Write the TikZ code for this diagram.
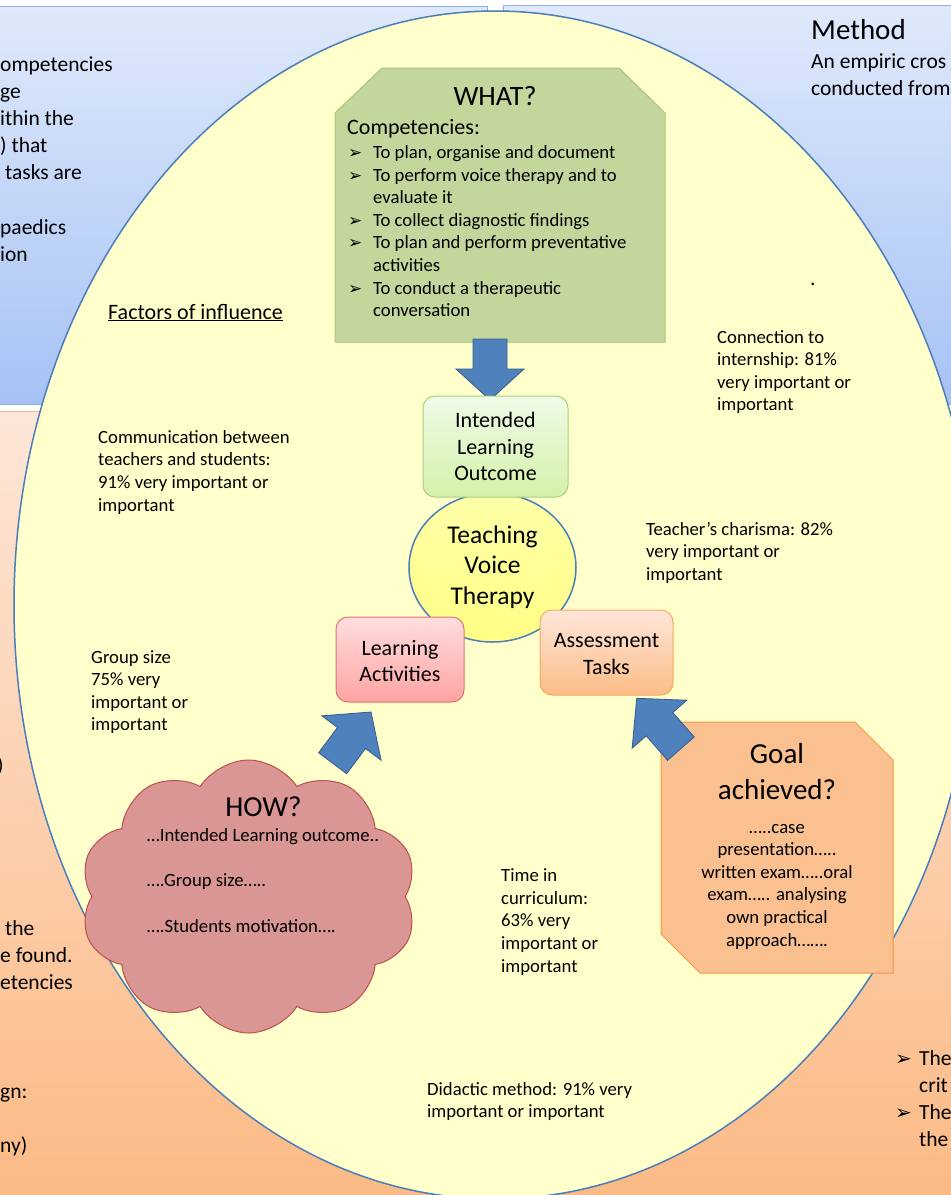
\documentclass[tikz,border=0pt]{standalone}
\usepackage{fontspec}
\setmainfont{Carlito}
\newfontfamily\dejavu{DejaVu Sans}
\usetikzlibrary{shapes.symbols,shapes.geometric}
\definecolor{bluetop}{HTML}{DFE9FB}
\definecolor{bluebot}{HTML}{A6C2F5}
\definecolor{blueedge}{HTML}{8FB0E6}
\definecolor{orgtop}{HTML}{FDE6D8}
\definecolor{orgbot}{HTML}{FBBA85}
\definecolor{orgedge}{HTML}{F9B583}
\definecolor{ellfill}{HTML}{FFFFCC}
\definecolor{elledge}{HTML}{4A7EBB}
\definecolor{whatfill}{HTML}{C3D69B}
\definecolor{whatedge}{HTML}{A8C878}
\definecolor{arrfill}{HTML}{4F81BD}
\definecolor{arredge}{HTML}{385D8A}
\definecolor{ilotop}{HTML}{EFFBE8}
\definecolor{ilobot}{HTML}{D3F2A9}
\definecolor{iloedge}{HTML}{A9D07C}
\definecolor{tvttop}{HTML}{FFFFA8}
\definecolor{tvtbot}{HTML}{FFFF85}
\definecolor{latop}{HTML}{FFDEDE}
\definecolor{labot}{HTML}{FFA3A3}
\definecolor{laedge}{HTML}{E07373}
\definecolor{attop}{HTML}{FEE6D9}
\definecolor{atbot}{HTML}{FCBD87}
\definecolor{atedge}{HTML}{F9A862}
\definecolor{cloudfill}{HTML}{D99694}
\definecolor{cloudedge}{HTML}{C0504D}
\definecolor{goalfill}{HTML}{FAC090}
\definecolor{goaledge}{HTML}{F79646}

\newcommand\mylines[2][l]{\begin{tabular}[t]{@{}#1@{}}#2\end{tabular}}
\newcommand\fS{\fontsize{18.7}{22.6}\selectfont}
\newcommand\fM{\fontsize{21.5}{27.2}\selectfont}
\newcommand\fMi{\fontsize{22}{26.7}\selectfont}
\newcommand\fT{\fontsize{25.5}{30.4}\selectfont}
\newcommand\fL{\fontsize{29}{35.7}\selectfont}
\newcommand\bulA{\makebox[25pt][l]{\dejavu\fontsize{17}{17}\selectfont ➢}}
\newcommand\bulB{\makebox[24pt][l]{\dejavu\fontsize{20}{20}\selectfont ➢}}
\newcommand\blockarrow[6]{%
  \filldraw[arrowst, shift={#1}, rotate=#2] (0,0) -- (-#4,#5) -- (-#4,#6) -- (-#3,#6) -- (-#3,-#6) -- (-#4,-#6) -- (-#4,-#5) -- cycle;}

\tikzset{
  txt/.style={inner sep=0pt, text=black},
  rbox/.style={rectangle, rounded corners=12pt, line width=1pt, inner sep=0pt},
  arrowst/.style={fill=arrfill, draw=arredge, line width=0.8pt, line join=miter},
}

\begin{document}
\begin{tikzpicture}[x=1pt, y=-1pt]
\useasboundingbox (0,0) rectangle (951,1195);
\clip (0,0) rectangle (951,1195);
\fill[white] (0,0) rectangle (951,1195);

% panels
\shade[top color=bluetop, bottom color=bluebot] (-5,6) rectangle (487,404);
\draw[blueedge, line width=1pt] (-5,6) rectangle (487,404);
\shade[top color=bluetop, bottom color=bluebot] (503,5) rectangle (960,404);
\draw[blueedge, line width=1pt] (503,5) rectangle (960,404);
\shade[top color=orgtop, bottom color=orgbot] (-5,411) rectangle (487,1200);
\draw[orgedge, line width=1pt] (-5,411) rectangle (487,1200);
\shade[top color=orgtop, bottom color=orgbot] (503,411) rectangle (960,1200);
\draw[orgedge, line width=1pt] (503,411) rectangle (960,1200);

% panel texts (cut at the picture edges)
\node[txt, anchor=base west, font=\fM] (lbtext) at (0,71)
  {\mylines{ompetencies\\ge\\ithin the\\) that\\\hspace*{5pt}tasks are\\ \\paedics\\ion}};
\node[txt, anchor=base west, font=\fL] (method) at (811,39) {Method};
\node[txt, anchor=base west, font=\fM] (methodtext) at (811,68)
  {\mylines{An empiric cros\\conducted from}};
\node[txt, anchor=base west, font=\fM] (lparen) at (-3,772) {)};
\node[txt, anchor=base west, font=\fM] (lotext) at (0,935)
  {\mylines{\hspace*{5pt}the\\e found.\\etencies\\ \\ \\ \\gn:\\ \\ny)}};
\node[txt, anchor=base west, font=\fM] (rotext) at (895,1065)
  {\begin{tabular}[t]{@{}l@{}l@{}}\bulB & The\\ & crit\\ \bulB & The\\ & the\end{tabular}};

% big ellipse
\filldraw[fill=ellfill, draw=elledge, line width=1.5pt] (495,605) ellipse [x radius=481pt, y radius=594pt];

% WHAT box
\filldraw[fill=whatfill, draw=whatedge, line width=1pt]
  (335,113) -- (382,68) -- (619,68) -- (665,113) -- (665,342) -- (335,342) -- cycle;
\node[txt, anchor=base, font=\fontsize{28}{34}\selectfont] (what) at (495,105) {WHAT?};
\node[txt, anchor=base west, font=\fMi] (comp) at (347,134) {Competencies:};
\node[txt, anchor=base west, font=\fS] (complist) at (348,158.5)
  {\begin{tabular}[t]{@{}l@{}l@{}}
   \bulA & To plan, organise and document\\
   \bulA & To perform voice therapy and to\\
         & evaluate it\\
   \bulA & To collect diagnostic findings\\
   \bulA & To plan and perform preventative\\
         & activities\\
   \bulA & To conduct a therapeutic\\
         & conversation
   \end{tabular}};

\node[txt, anchor=base west, font=\fM] (dot) at (810,285) {.};

% down arrow
\blockarrow{(490,400)}{-90}{61}{31}{34}{17}

% centre
\node[ellipse, draw=elledge, line width=1.5pt, top color=tvttop, bottom color=tvtbot,
      minimum width=167pt, minimum height=149pt, inner sep=0pt] (tvt) at (492.5,567.5) {};
\node[txt, anchor=base, font=\fT] (tvttext) at (492.5,543.3) {\mylines[c]{Teaching\\Voice\\Therapy}};

\node[rbox, draw=iloedge, top color=ilotop, bottom color=ilobot,
      minimum width=145pt, minimum height=101pt] (ilo) at (495.5,446.5) {};
\node[txt, anchor=base, font=\fMi] (ilotext) at (495.5,427.3) {\mylines[c]{Intended\\Learning\\Outcome}};

\node[rbox, draw=laedge, top color=latop, bottom color=labot,
      minimum width=128pt, minimum height=85pt] (la) at (400,659.5) {};
\node[txt, anchor=base, font=\fMi] (latext) at (400,655) {\mylines[c]{Learning\\Activities}};

\node[rbox, draw=atedge, top color=attop, bottom color=atbot,
      minimum width=133pt, minimum height=85pt] (at) at (606.5,652.5) {};
\node[txt, anchor=base, font=\fMi] (attext) at (606.5,647.3) {\mylines[c]{Assessment\\Tasks}};

% HOW cloud
\node[cloud, cloud puffs=10, cloud puff arc=115, aspect=1.23, draw=cloudedge, fill=cloudfill,
      line width=1pt, minimum width=337pt, minimum height=273pt, inner sep=0pt] (how) at (248.5,896.5) {};
\node[txt, anchor=base, font=\fL] (howtitle) at (263.5,816) {HOW?};
\node[txt, anchor=base west, font=\fS] (howlist) at (146.7,841.7)
  {\mylines{…Intended Learning outcome..\\ \\….Group size…..\\ \\….Students motivation….}};

% Goal box
\filldraw[fill=goalfill, draw=goaledge, line width=1pt]
  (661,722) -- (855,722) -- (893,760) -- (893,973) -- (700,973) -- (661,934) -- cycle;
\node[txt, anchor=base, font=\fL] (goaltitle) at (777,763.3) {\mylines[c]{Goal\\achieved?}};
\node[txt, anchor=base, font=\fS] (goallist) at (777,833)
  {\mylines[c]{…..case\\presentation…..\\written exam…..oral\\exam….. analysing\\own practical\\approach…….}};

% arrows
\blockarrow{(371,712)}{53.13}{64}{32.5}{37}{17.5}
\blockarrow{(636.7,698.3)}{131.3}{67}{34.5}{36.4}{17.7}

% factors
\node[txt, anchor=base west, font=\fMi] (factors) at (108,319) {\underline{Factors of influence}};
\node[txt, anchor=base west, font=\fS] (conn) at (717,343)
  {\mylines{Connection to\\internship: 81\%\\very important or\\important}};
\node[txt, anchor=base west, font=\fS] (comm) at (98,443.3)
  {\mylines{Communication between\\teachers and students:\\91\% very important or\\important}};
\node[txt, anchor=base west, font=\fS] (charisma) at (646,535)
  {\mylines{Teacher’s charisma: 82\%\\very important or\\important}};
\node[txt, anchor=base west, font=\fS] (group) at (91,663)
  {\mylines{Group size\\75\% very\\important or\\important}};
\node[txt, anchor=base west, font=\fS] (time) at (501,881.7)
  {\mylines{Time in\\curriculum:\\63\% very\\important or\\important}};
\node[txt, anchor=base west, font=\fS] (didactic) at (427,1095)
  {\mylines{Didactic method: 91\% very\\important or important}};
\end{tikzpicture}
\end{document}
